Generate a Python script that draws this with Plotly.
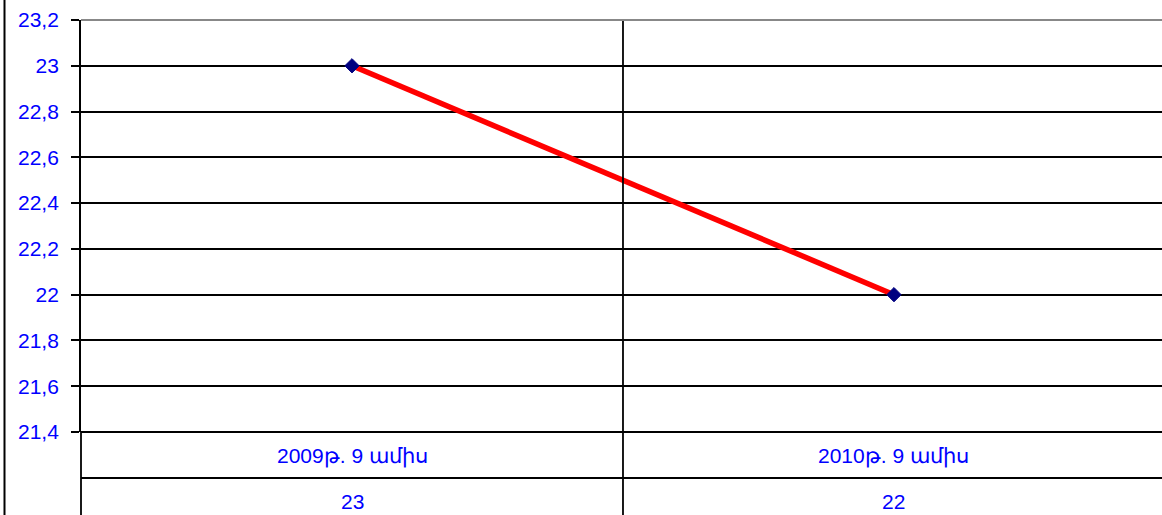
import plotly.graph_objects as go

categories = ["2009թ. 9 ամիս", "2010թ. 9 ամիս"]
values = [23, 22]
y_min, y_max, y_step = 21.4, 23.2, 0.2

FONT = "Liberation Sans, Arial, sans-serif"
BLUE = "#0000FF"
FS = 21

W, H = 1162, 515
L, R, T, B = 81, 0, 20, 83
plot_h = H - T - B
plot_w = W - L - R

def py(px):  # pixel row -> paper y
    return (H - B - px) / plot_h

def pxx(px):  # pixel col -> paper x
    return (px - L) / plot_w

xs = list(range(len(categories)))

fig = go.Figure()
fig.add_trace(go.Scatter(
    x=xs, y=values, mode="lines+markers",
    line=dict(color="#FF0000", width=5.5),
    marker=dict(symbol="diamond", size=11, color="#000080",
                line=dict(color="#000080", width=1)),
    showlegend=False, cliponaxis=False,
))

bottom = py(H)
top = py(0)
row_line = py(478)
shapes = [
    dict(type="line", xref="paper", yref="paper", x0=pxx(4.5), x1=pxx(4.5),
         y0=bottom, y1=top, line=dict(color="black", width=2)),
    dict(type="line", xref="paper", yref="paper", x0=0, x1=0,
         y0=bottom, y1=0, line=dict(color="black", width=1.8)),
    dict(type="line", xref="x", yref="paper", x0=0.5, x1=0.5,
         y0=bottom, y1=1, line=dict(color="black", width=1.8)),
    dict(type="line", xref="paper", yref="paper", x0=0, x1=1,
         y0=row_line, y1=row_line, line=dict(color="black", width=1.8)),
    dict(type="line", xref="paper", yref="paper", x0=0, x1=1,
         y0=0, y1=0, line=dict(color="black", width=2.2)),
    dict(type="line", xref="paper", yref="paper", x0=0, x1=1,
         y0=1, y1=1, line=dict(color="#888888", width=2)),
]

annotations = []
for i, (c, v) in enumerate(zip(categories, values)):
    annotations.append(dict(x=i, y=py(456), xref="x", yref="paper", text=c,
                            showarrow=False, font=dict(family=FONT, size=FS, color=BLUE),
                            xanchor="center", yanchor="middle"))
    annotations.append(dict(x=i, y=py(501), xref="x", yref="paper", text=str(v),
                            showarrow=False, font=dict(family=FONT, size=FS, color=BLUE),
                            xanchor="center", yanchor="middle"))

tickvals = [round(y_min + i * y_step, 1) for i in range(int(round((y_max - y_min) / y_step)) + 1)]

fig.update_layout(
    width=W, height=H,
    margin=dict(l=L, r=R, t=T, b=B, pad=0),
    paper_bgcolor="white", plot_bgcolor="white",
    separators=", ",
    shapes=shapes, annotations=annotations,
    xaxis=dict(range=[-0.5, 1.4945], showgrid=False, zeroline=False,
               showticklabels=False, ticks="", showline=False, fixedrange=True),
    yaxis=dict(range=[y_min, y_max], tickvals=tickvals, showgrid=True,
               gridcolor="black", gridwidth=1.6, zeroline=False,
               showline=True, linecolor="black", linewidth=1.8,
               ticks="outside", ticklen=8, tickcolor="black", tickwidth=1.5,
               ticklabelstandoff=8,
               tickfont=dict(family=FONT, size=FS, color=BLUE)),
)

fig.write_html("out.html", config={"displayModeBar": False},
               post_script="document.body.style.margin='0';document.body.style.overflow='hidden';")
